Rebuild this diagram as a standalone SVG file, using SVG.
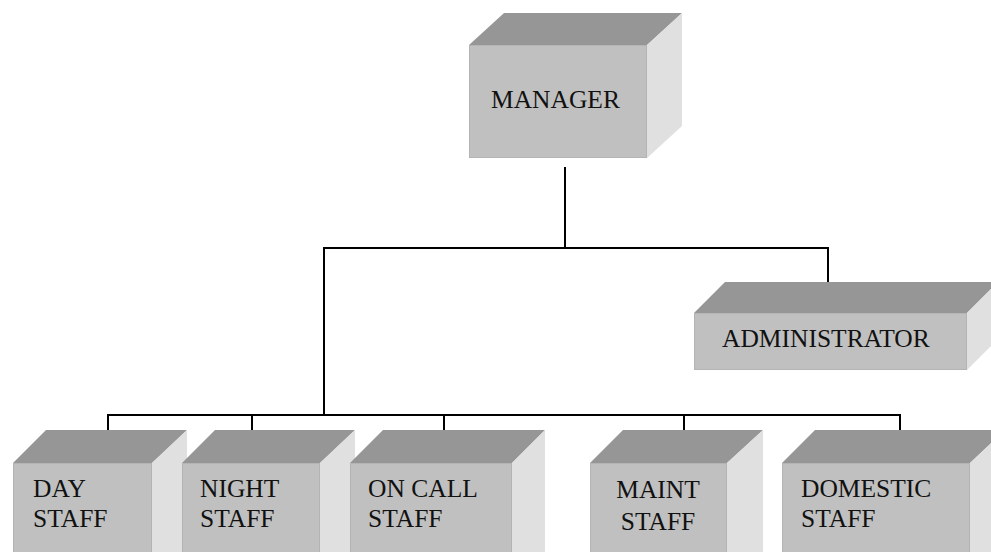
<svg xmlns="http://www.w3.org/2000/svg" width="991" height="552" viewBox="0 0 991 552">
<style>
.top{fill:#969696}
.front{fill:#c0c0c0;stroke:#b4b4b4;stroke-width:1}
.side{fill:#e0e0e0}
.lbl{font-family:"Liberation Serif","Times New Roman",serif;font-size:25.5px;fill:#111}
.wire{stroke:#000;stroke-width:2;fill:none}
</style>
<rect width="991" height="552" fill="#fff"/>
<g id="connectors">
<line class="wire" x1="565" y1="167" x2="565" y2="248"/>
<polyline class="wire" points="324,415 324,248 828,248 828,288"/>
<polyline class="wire" points="108,447 108,415 900,415 900,438"/>
<line class="wire" x1="252" y1="415" x2="252" y2="448"/>
<line class="wire" x1="444" y1="415" x2="444" y2="452"/>
<line class="wire" x1="684" y1="415" x2="684" y2="438"/>
</g>
<g id="manager">
<polygon class="top" points="469,45 504,13 682,13 647,45"/>
<polygon class="side" points="647,45 682,13 682,126 647,158"/>
<rect class="front" x="469.5" y="45.5" width="177" height="112"/>
<text class="lbl" x="491" y="108">MANAGER</text>
</g>
<g id="administrator">
<polygon class="top" points="694,313 725,282 998,282 967,313"/>
<polygon class="side" points="967,313 998,282 998,339 967,370"/>
<rect class="front" x="694.5" y="313.5" width="272" height="56"/>
<text class="lbl" x="722" y="347">ADMINISTRATOR</text>
</g>
<g id="day-staff">
<polygon class="top" points="13,463 46,430 187,430 152,463"/>
<polygon class="side" points="152,463 187,430 187,570 152,603"/>
<rect class="front" x="13.5" y="463.5" width="138" height="100"/>
<text class="lbl" x="33" y="497">DAY</text>
<text class="lbl" x="33" y="527">STAFF</text>
</g>
<g id="night-staff">
<polygon class="top" points="182,463 215,430 355,430 320,463"/>
<polygon class="side" points="320,463 355,430 355,570 320,603"/>
<rect class="front" x="182.5" y="463.5" width="137" height="100"/>
<text class="lbl" x="200" y="497">NIGHT</text>
<text class="lbl" x="200" y="527">STAFF</text>
</g>
<g id="on-call-staff">
<polygon class="top" points="350,463 383,430 545,430 512,463"/>
<polygon class="side" points="512,463 545,430 545,570 512,603"/>
<rect class="front" x="350.5" y="463.5" width="161" height="100"/>
<text class="lbl" x="368" y="497">ON CALL</text>
<text class="lbl" x="368" y="527">STAFF</text>
</g>
<g id="maint-staff">
<polygon class="top" points="590,463 623,430 763,430 727,463"/>
<polygon class="side" points="727,463 763,430 763,570 727,603"/>
<rect class="front" x="590.5" y="463.5" width="136" height="100"/>
<text class="lbl" x="658" y="498" text-anchor="middle">MAINT</text>
<text class="lbl" x="658" y="530" text-anchor="middle">STAFF</text>
</g>
<g id="domestic-staff">
<polygon class="top" points="782,463 815,430 1005,430 970,463"/>
<polygon class="side" points="970,463 1005,430 1005,570 970,603"/>
<rect class="front" x="782.5" y="463.5" width="187" height="100"/>
<text class="lbl" x="801" y="497">DOMESTIC</text>
<text class="lbl" x="801" y="527">STAFF</text>
</g>
</svg>
